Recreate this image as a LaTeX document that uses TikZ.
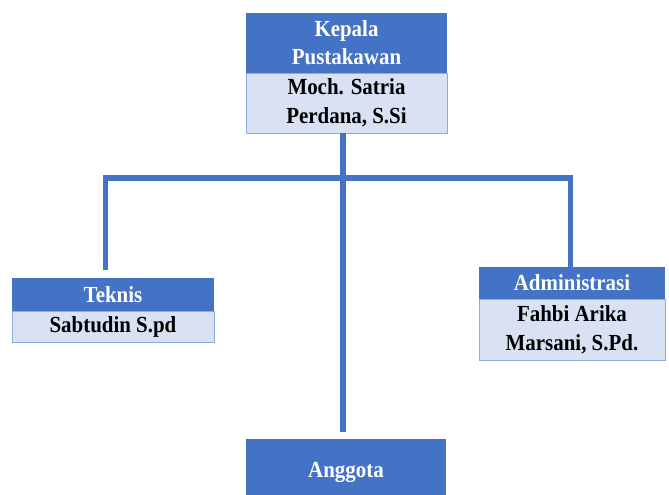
\documentclass[tikz,border=0pt]{standalone}
\usepackage{fontspec}
\setmainfont{Liberation Serif}[FakeStretch=0.91]
\usetikzlibrary{calc}
\definecolor{hdrblue}{HTML}{4472C4}
\definecolor{lightblue}{HTML}{D9E2F3}
\definecolor{edgeblue}{HTML}{8FAADC}
\begin{document}
\begin{tikzpicture}[x=1pt,y=-1pt,
  hdr/.style={fill=hdrblue, draw=none, text=white, font=\fontsize{23}{28}\selectfont\bfseries, align=center, inner sep=0pt},
  nm/.style={fill=lightblue, draw=edgeblue, line width=0.8pt, text=black, font=\fontsize{23}{29}\selectfont\bfseries, align=center, inner sep=0pt},
  conn/.style={draw=hdrblue, line width=5.5pt, line join=miter}]
\useasboundingbox (0,0) rectangle (669,495);
% top
\node[hdr, minimum width=201pt, minimum height=60pt] (kep) at (346.5,43) {Kepala\\Pustakawan};
\node[nm, minimum width=201pt, minimum height=60pt] (kepnama) at (346.5,103) {Moch. Satria\\Perdana, S.Si};
% teknis
\node[hdr, minimum width=202pt, minimum height=33pt] (tek) at (113,294.5) {Teknis};
\node[nm, minimum width=202pt, minimum height=31pt] (teknama) at (113,326.5) {Sabtudin S.pd};
% administrasi
\node[hdr, minimum width=186pt, minimum height=32pt] (adm) at (572,283) {Administrasi};
\node[nm, minimum width=186pt, minimum height=61pt] (admnama) at (572,329.5) {Fahbi Arika\\Marsani, S.Pd.};
% anggota
\node[hdr, minimum width=200pt, minimum height=66pt] (ang) at (346,472) {Anggota};
% connectors
\coordinate (jt) at (343,178);
\coordinate (jl) at (105.5,178);
\coordinate (jr) at (570.3,178);
\draw[conn] (jt |- kepnama.south) -- ($(jt |- ang.north)+(0,-7)$);
\draw[conn] ($(jl |- tek.north)+(0,-8)$) -- (jl) -- (jr) -- (jr |- adm.north);
\end{tikzpicture}
\end{document}
